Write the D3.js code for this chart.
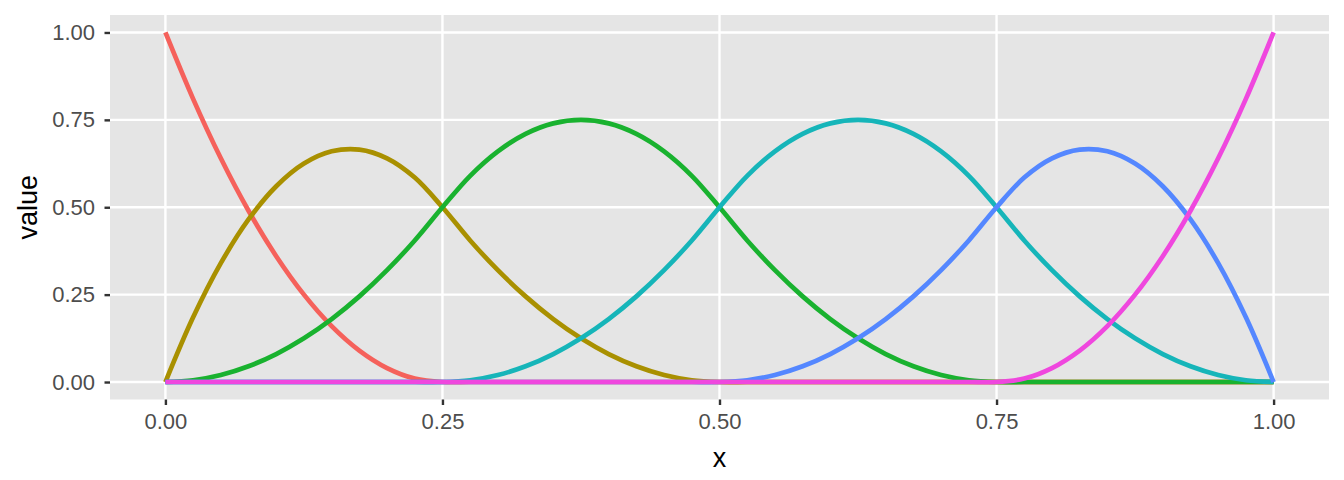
<!DOCTYPE html>
<html><head><meta charset="utf-8">
<script src="https://cdn.jsdelivr.net/npm/d3@7"></script>
<style>body{margin:0;background:#fff;} svg{display:block;}</style>
</head><body>
<script>
// x positions sampled every 0.025
const xs = [0,0.025,0.05,0.075,0.1,0.125,0.15,0.175,0.2,0.225,0.25,0.275,0.3,0.325,0.35,0.375,0.4,0.425,0.45,0.475,0.5,0.525,0.55,0.575,0.6,0.625,0.65,0.675,0.7,0.725,0.75,0.775,0.8,0.825,0.85,0.875,0.9,0.925,0.95,0.975,1];
const series1 = [1,0.81,0.64,0.49,0.36,0.25,0.16,0.09,0.04,0.01,0,0,0,0,0,0,0,0,0,0,0,0,0,0,0,0,0,0,0,0,0,0,0,0,0,0,0,0,0,0,0];
const series2 = [0,0.185,0.34,0.465,0.56,0.625,0.66,0.665,0.64,0.585,0.5,0.405,0.32,0.245,0.18,0.125,0.08,0.045,0.02,0.005,0,0,0,0,0,0,0,0,0,0,0,0,0,0,0,0,0,0,0,0,0];
const series3 = [0,0.005,0.02,0.045,0.08,0.125,0.18,0.245,0.32,0.405,0.5,0.59,0.66,0.71,0.74,0.75,0.74,0.71,0.66,0.59,0.5,0.405,0.32,0.245,0.18,0.125,0.08,0.045,0.02,0.005,0,0,0,0,0,0,0,0,0,0,0];
const series4 = [0,0,0,0,0,0,0,0,0,0,0,0.005,0.02,0.045,0.08,0.125,0.18,0.245,0.32,0.405,0.5,0.59,0.66,0.71,0.74,0.75,0.74,0.71,0.66,0.59,0.5,0.405,0.32,0.245,0.18,0.125,0.08,0.045,0.02,0.005,0];
const series5 = [0,0,0,0,0,0,0,0,0,0,0,0,0,0,0,0,0,0,0,0,0,0.005,0.02,0.045,0.08,0.125,0.18,0.245,0.32,0.405,0.5,0.585,0.64,0.665,0.66,0.625,0.56,0.465,0.34,0.185,0];
const series6 = [0,0,0,0,0,0,0,0,0,0,0,0,0,0,0,0,0,0,0,0,0,0,0,0,0,0,0,0,0,0,0,0.01,0.04,0.09,0.16,0.25,0.36,0.49,0.64,0.81,1];
const seriesList = [series1, series2, series3, series4, series5, series6];
const colors = ["#F5615B","#A99000","#19B22F","#16B5B9","#5487FF","#EF47DE"];
const xTicks = [0,0.25,0.5,0.75,1];
const yTicks = [0,0.25,0.5,0.75,1];
const xTitle = "x", yTitle = "value";

const W = 1344, H = 480;
const panel = {left:110, right:1329, top:15, bottom:399.5};
const FONT = "Liberation Sans, Arial, Helvetica, sans-serif";
const svg = d3.select("body").append("svg").attr("width",W).attr("height",H);
const xS = d3.scaleLinear().domain([-0.05,1.05]).range([panel.left,panel.right]);
const yS = d3.scaleLinear().domain([-0.05,1.05]).range([panel.bottom,panel.top]);

svg.append("rect").attr("x",panel.left).attr("y",panel.top)
  .attr("width",panel.right-panel.left).attr("height",panel.bottom-panel.top).attr("fill","#E5E5E5");

const g = svg.append("g");
g.selectAll(".vg").data(xTicks).join("line")
  .attr("x1",d=>xS(d)).attr("x2",d=>xS(d)).attr("y1",panel.top).attr("y2",panel.bottom)
  .attr("stroke","#fff").attr("stroke-width",2.4);
g.selectAll(".hg").data(yTicks).join("line")
  .attr("y1",d=>yS(d)).attr("y2",d=>yS(d)).attr("x1",panel.left).attr("x2",panel.right)
  .attr("stroke","#fff").attr("stroke-width",2.4);

const line = d3.line().x((d,i)=>xS(xs[i])).y(d=>yS(d)).curve(d3.curveCatmullRom.alpha(0.5));
seriesList.forEach((s,k)=>{
  svg.append("path").attr("d",line(s)).attr("fill","none")
    .attr("stroke",colors[k]).attr("stroke-width",4.7).attr("stroke-linejoin","round").attr("stroke-linecap","butt");
});

const fmt = d3.format(".2f");
const xAxis = svg.append("g").attr("transform",`translate(0,${panel.bottom})`)
  .call(d3.axisBottom(xS).tickValues(xTicks).tickFormat(fmt).tickSize(5.5).tickPadding(8));
const yAxis = svg.append("g").attr("transform",`translate(${panel.left},0)`)
  .call(d3.axisLeft(yS).tickValues(yTicks).tickFormat(fmt).tickSize(5.5).tickPadding(9.5));
[xAxis,yAxis].forEach(a=>{
  a.select(".domain").remove();
  a.selectAll(".tick line").attr("stroke","#333").attr("stroke-width",2.4);
  a.selectAll(".tick text").attr("fill","#4D4D4D").style("font-family",FONT).style("font-size","22px");
});
svg.append("text").attr("x",(panel.left+panel.right)/2).attr("y",467).attr("text-anchor","middle")
  .style("font-family",FONT).style("font-size","27px").attr("fill","#000").text(xTitle);
svg.append("text").attr("transform",`translate(37,${(panel.top+panel.bottom)/2}) rotate(-90)`).attr("text-anchor","middle")
  .style("font-family",FONT).style("font-size","27px").attr("fill","#000").text(yTitle);
</script>
</body></html>
